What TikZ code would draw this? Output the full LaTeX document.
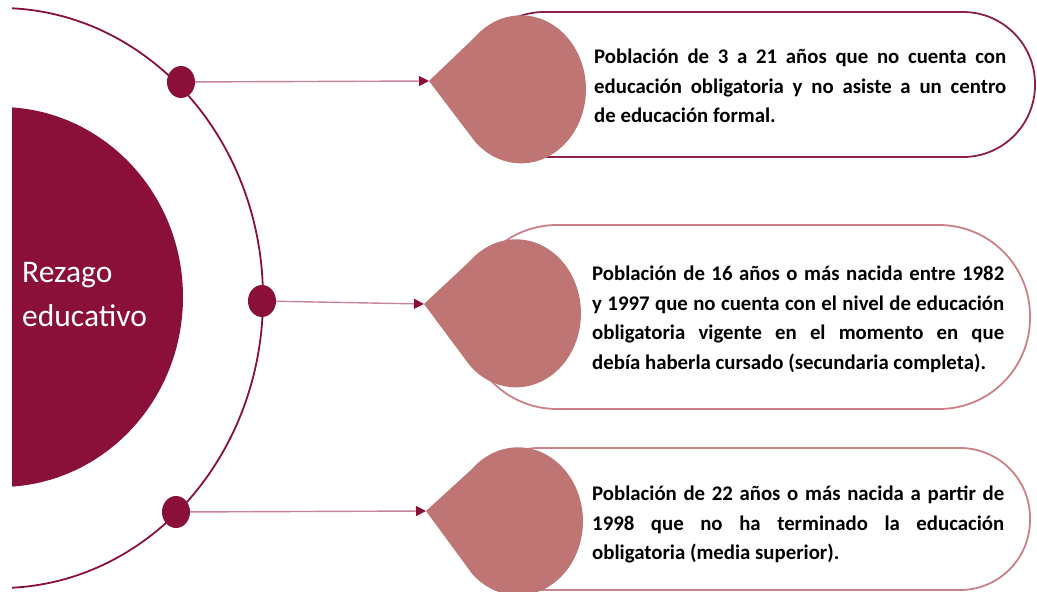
\documentclass[tikz,border=0pt]{standalone}
\usepackage{fontspec}
\setmainfont{Carlito}
\usetikzlibrary{arrows.meta, positioning, shapes.geometric}
\definecolor{vino}{HTML}{8A1039}
\definecolor{gotaclr}{HTML}{C07575}
\definecolor{lineaclr}{HTML}{C68696}
\definecolor{bordeclr}{HTML}{8E1E4C}
\definecolor{bordeclaro}{HTML}{CC8088}

% teardrop pointing left: name, center x, center y, tip y
\newcommand{\gota}[4]{%
    \fill[gotaclr] (#2-92,#4) -- (#2-46,#3-52)
        arc[start angle=225, end angle=495, x radius=65, y radius=74] -- cycle;
    \coordinate (#1) at (#2-92,#4);
}

\begin{document}
\begin{tikzpicture}[
            x=1pt, y=-1pt,
            arc line/.style={line width=1.8pt, vino},
            dot/.style={ellipse, fill=vino, minimum width=28pt, minimum height=32pt, inner sep=0pt},
            link/.style={line width=1.4pt, lineaclr, -{Triangle[length=10pt, width=10pt, color=vino]}},
            stadium/.style={line width=1.8pt, fill=white},
            box text/.style={font=\fontsize{20.8}{29.5}\selectfont\bfseries, text width=412pt, align=justify, anchor=north west, inner sep=0pt},
            title text/.style={font=\fontsize{31.5}{44}\selectfont, text=white, align=left, anchor=north west, inner sep=0pt},
        ]

        \useasboundingbox (0,0) rectangle (1037,592);

        % Left disc and outer ring
        \begin{scope}
            \clip (12,0) rectangle (1037,592);
            \draw[arc line] (0,298) ellipse [x radius=263, y radius=290];
            \fill[vino] (0,297) ellipse [x radius=183, y radius=190];
        \end{scope}
        \node[title text] (titulo) at (22,262) {Rezago\\educativo};

        % Dots on the ring
        \node[dot] (p1) at (181,82) {};
        \node[dot] (p2) at (262,301) {};
        \node[dot] (p3) at (176,512) {};

        % Stadium boxes
        \draw[stadium, draw=bordeclr, rounded corners=72pt] (472,12) rectangle (1035,157);
        \draw[stadium, draw=bordeclaro, rounded corners=91pt] (466,225) rectangle (1030,409);
        \draw[stadium, draw=bordeclaro, rounded corners=70pt] (469,448) rectangle (1030,590);

        % Teardrops
        \gota{g1}{521}{89}{81}
        \gota{g2}{516}{313}{304}
        \gota{g3}{518}{521}{511}

        % Connectors
        \draw[link] (p1) -- (g1);
        \draw[link] (p2) -- (g2);
        \draw[link] (p3) -- (g3);

        % Texts
        \node[box text] (t1) at (594,49) {Población de 3 a 21 años que no cuenta con\linebreak educación obligatoria y no asiste a un centro\linebreak de educación formal.};
        \node[box text] (t2) at (592,266) {Población de 16 años o más nacida entre 1982\linebreak y 1997 que no cuenta con el nivel de educación\linebreak obligatoria vigente en el momento en que\linebreak debía haberla cursado (secundaria completa).};
        \node[box text] (t3) at (592,486) {Población de 22 años o más nacida a partir de\linebreak 1998 que no ha terminado la educación\linebreak obligatoria (media superior).};

\end{tikzpicture}
\end{document}
